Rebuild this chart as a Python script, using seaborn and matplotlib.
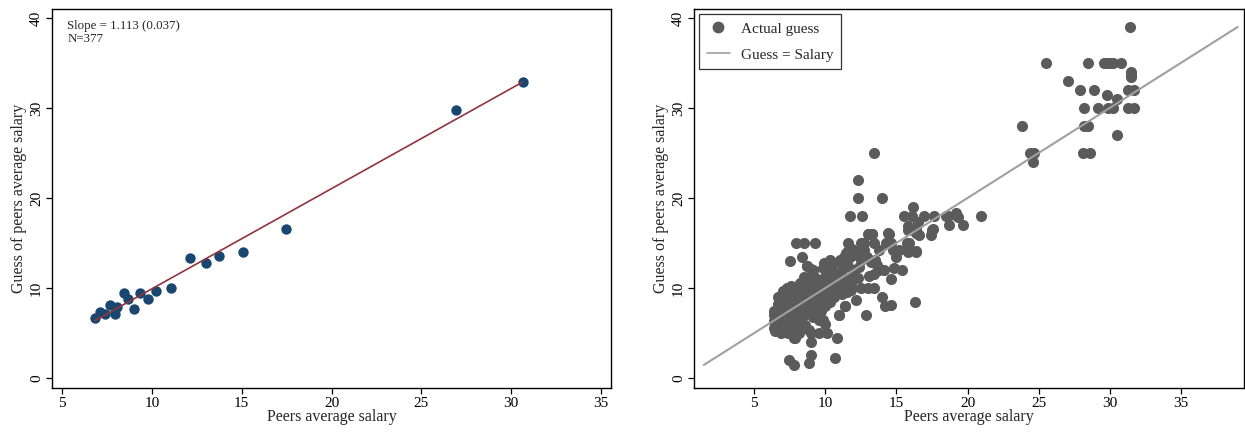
import numpy as np
import pandas as pd
import matplotlib
matplotlib.use("Agg")
import matplotlib.pyplot as plt
from matplotlib.lines import Line2D
import seaborn as sns

# ---------------- data: left panel (binned scatter) ----------------
bin_salary = [6.83, 7.14, 7.40, 7.69, 7.92, 8.07, 8.43, 8.69, 8.98, 9.34,
              9.79, 10.23, 11.05, 12.14, 13.01, 13.75, 15.08, 17.44, 26.95, 30.64]
bin_guess = [6.64, 7.37, 7.08, 8.15, 7.12, 7.93, 9.40, 8.81, 7.67, 9.40,
             8.74, 9.70, 9.99, 13.31, 12.79, 13.60, 14.01, 16.59, 29.79, 32.92]
fit_slope = 1.113
fit_intercept = -1.22
slope_text = "Slope = 1.113 (0.037)\nN=377"

# ---------------- data: right panel (individual guesses) ----------------
high_salary = [31.4, 25.5, 28.5, 29.6, 29.8, 30.0, 30.2, 30.8, 31.5, 31.5, 31.5,
               27.1, 27.9, 28.9, 29.8, 30.5, 31.3, 31.7, 28.2, 29.2, 29.9, 30.2,
               31.3, 31.7, 23.8, 28.2, 28.5, 30.5, 24.4, 24.7, 24.6, 28.1, 28.6]
high_guess = [39, 35, 35, 35, 35, 35, 35, 35, 34, 33.7, 33.4,
              33, 32, 32, 31.5, 31, 32, 32, 30, 30, 30, 30,
              30, 30, 28, 28, 28, 27, 25, 25, 24, 25, 25]

mid_salary = [13.45, 12.3, 12.3, 14.0, 11.7, 12.6, 16.15,
              15.5, 16.1, 16.95, 17.65, 18.5, 19.2, 19.3, 20.95,
              15.8, 16.55, 16.4, 16.6, 17.5, 17.4, 18.7, 19.7,
              13.05, 13.3, 14.45, 12.5, 13.45, 14.3, 14.6, 15.85, 11.6, 12.7,
              15.15, 15.8, 16.4, 12.75, 13.8, 14.75, 15.0,
              12.5, 12.2, 12.9, 13.2, 14.15, 14.85, 15.4, 14.65, 13.1, 13.45,
              12.98, 13.45, 12.5, 13.97, 16.3, 14.2, 14.6, 12.84, 11.4, 10.96, 12.15,
              11.0, 11.3, 11.6, 11.9, 11.45, 11.7, 12.15, 12.6,
              13.5, 13.65, 13.8, 11.2, 11.6, 12.0, 12.4, 11.9, 12.27, 11.5, 11.8,
              15.84, 16.35, 15.84, 17.6, 18.6, 19.16, 13.0, 13.26, 14.4, 15.73, 16.35]
mid_guess = [25, 22, 20, 20, 18, 18, 19,
             18, 18, 18, 18, 18, 18.1, 17.9, 18,
             16.9, 17.3, 16.6, 15.9, 16.5, 15.9, 17, 17,
             16, 16, 16, 15, 15, 15, 15, 15, 15, 15,
             14.2, 14, 14, 14.2, 14.2, 14.2, 13.5,
             13.1, 13.7, 13.4, 12.9, 12, 12.2, 12, 11, 11.3, 11.6,
             10, 10, 10, 9, 8.5, 8, 8.1, 7, 8, 7, 8.7,
             13.1, 13.5, 14.1, 14.3, 13.85, 13.5, 14.0, 13.7,
             13.1, 12.6, 12.0, 12, 12.4, 12.0, 12.3, 11.5, 11.07, 11, 10.5,
             16.5, 16.1, 14.07, 16.55, 18, 18.3, 16, 16, 16.1, 15, 14.07]

low_salary = [7.43, 7.78, 8.97, 8.85, 10.69, 9.0, 10.85, 9.56, 10.15, 8.6, 8.85,
              6.85, 7.9, 7.78, 6.46, 6.94, 7.36, 8.12, 8.99, 9.8, 10.0, 9.52, 10.97, 11.4,
              7.92, 8.48, 9.24, 7.5, 8.37, 8.7, 9.0, 9.9, 10.3, 9.8, 10.38, 10.5, 10.97,
              8.73, 9.13,
              6.4, 6.4, 6.4, 6.4,
              6.7, 6.7, 6.7, 6.7, 6.7, 6.7,
              7.0, 7.0, 7.0, 7.0, 7.0, 7.0, 7.0, 7.0,
              7.3, 7.3, 7.3, 7.3, 7.3, 7.3, 7.3, 7.3,
              7.6, 7.6, 7.6, 7.6, 7.6, 7.6, 7.6, 7.6, 7.6,
              7.9, 7.9, 7.9, 7.9, 7.9, 7.9, 7.9, 7.9,
              8.2, 8.2, 8.2, 8.2, 8.2, 8.2, 8.2, 8.2,
              8.5, 8.5, 8.5, 8.5, 8.5, 8.5, 8.5, 8.5,
              8.8, 8.8, 8.8, 8.8, 8.8, 8.8, 8.8,
              9.1, 9.1, 9.1, 9.1, 9.1, 9.1, 9.1, 9.1,
              9.4, 9.4, 9.4, 9.4, 9.4, 9.4,
              9.7, 9.7, 9.7, 9.7, 9.7, 9.7,
              10.0, 10.0, 10.0, 10.0, 10.0, 10.0,
              10.3, 10.3, 10.3, 10.3, 10.3,
              10.6, 10.6, 10.6, 10.6, 10.6,
              10.9, 10.9, 10.9, 10.9,
              11.2, 11.2, 11.2, 11.5, 11.5, 11.8, 11.8]
low_guess = [2.05, 1.45, 2.55, 1.65, 2.2, 4.0, 4.5, 5, 5, 5.9, 5.3,
             5, 4.4, 4.5, 5.2, 5.2, 5, 5, 5, 6.4, 6.0, 6.5, 7.0, 8.0,
             15, 15, 15, 13, 13.5, 12.5, 12.1, 12.8, 13.1, 12.2, 12.9, 12, 12.9,
             12.4, 12.0,
             5.6, 6.3, 7.0, 7.5,
             5.8, 6.4, 7.0, 7.6, 8.2, 9.0,
             5.5, 6.1, 6.7, 7.3, 7.9, 8.5, 9.1, 9.7,
             5.8, 6.4, 7.0, 7.6, 8.2, 8.8, 9.4, 10.0,
             5.5, 6.1, 6.7, 7.3, 7.9, 8.5, 9.1, 9.7, 10.2,
             5.8, 6.4, 7.0, 7.6, 8.2, 8.8, 9.4, 10.0,
             6.5, 7.1, 7.7, 8.3, 8.9, 9.5, 10.1, 10.6,
             7.0, 7.6, 8.2, 8.8, 9.4, 10.0, 10.6, 11.2,
             7.3, 8.0, 8.6, 9.2, 9.8, 10.4, 11.0,
             6.8, 7.5, 8.2, 8.8, 9.4, 10.0, 10.7, 11.5,
             7.8, 8.5, 9.1, 9.7, 10.3, 11.0,
             7.5, 8.2, 8.8, 9.4, 10.0, 10.6,
             8.0, 8.7, 9.3, 10.0, 10.6, 11.2,
             8.5, 9.2, 9.8, 10.0, 10.5,
             9.0, 9.6, 10.0, 10.8, 11.3,
             9.5, 10.0, 10.6, 11.1,
             9.3, 10.0, 10.4, 9.6, 10.0, 9.8, 10.2]

x_label = "Peers average salary"
y_label = "Guess of peers average salary"
x_ticks = [5, 10, 15, 20, 25, 30, 35]
y_ticks = [0, 10, 20, 30, 40]
legend_labels = ["Actual guess", "Guess = Salary"]

# ---------------- build tables ----------------
bins = pd.DataFrame({"salary": bin_salary, "guess": bin_guess})
indiv = pd.DataFrame({
    "salary": high_salary + mid_salary + low_salary,
    "guess": high_guess + mid_guess + low_guess,
})
fit_x = np.array([min(bin_salary), max(bin_salary)])
fit_df = pd.DataFrame({"x": fit_x, "y": fit_slope * fit_x + fit_intercept})
g_lo, g_hi = indiv["guess"].min(), indiv["guess"].max()
diag_df = pd.DataFrame({"x": [g_lo, g_hi], "y": [g_lo, g_hi]})

# ---------------- style ----------------
sns.set_theme(style="white")
plt.rcParams["font.family"] = ["Liberation Serif", "DejaVu Serif"]
plt.rcParams["axes.edgecolor"] = "black"
plt.rcParams["axes.linewidth"] = 1.0

fig = plt.figure(figsize=(12.45, 4.32), dpi=100, facecolor="white")
ax1 = fig.add_axes([52 / 1245, 1 - 388 / 432, 559 / 1245, 379 / 432])
ax2 = fig.add_axes([694 / 1245, 1 - 388 / 432, 550 / 1245, 379 / 432])

navy = "#1a476f"
maroon = "#90353b"
dgray = "#5b5b5b"
lgray = "#a0a0a0"

# left panel
sns.scatterplot(data=bins, x="salary", y="guess", ax=ax1, color=navy, s=56,
                edgecolor=navy, linewidth=0, zorder=2, legend=False)
sns.lineplot(data=fit_df, x="x", y="y", ax=ax1, color=maroon, linewidth=1.2,
             zorder=3, legend=False)
ax1.set_xlim(4.44, 35.56)
ax1.text(0.027, 0.972, slope_text, transform=ax1.transAxes, ha="left", va="top",
         fontsize=9.3, linespacing=1.1)

# right panel
sns.scatterplot(data=indiv, x="salary", y="guess", ax=ax2, color=dgray, s=64,
                edgecolor=dgray, linewidth=0, zorder=2, legend=False)
sns.lineplot(data=diag_df, x="x", y="y", ax=ax2, color=lgray, linewidth=1.5,
             zorder=3, legend=False)
ax2.set_xlim(0.76, 39.45)

handles = [Line2D([0], [0], marker="o", linestyle="none", color=dgray, markersize=7.5),
           Line2D([0], [0], color=lgray, linewidth=1.2)]
leg = ax2.legend(handles, legend_labels, loc="upper left", fontsize=11,
                 frameon=True, fancybox=False, edgecolor="black",
                 borderaxespad=0.35, handlelength=1.5, handletextpad=0.7,
                 borderpad=0.5, labelspacing=0.8)
leg.get_frame().set_linewidth(0.9)

for ax in (ax1, ax2):
    ax.set_ylim(-1.11, 41.0)
    ax.set_xticks(x_ticks)
    ax.set_yticks(y_ticks)
    ax.set_xlabel(x_label, fontsize=11.5, labelpad=-1)
    ax.set_ylabel(y_label, fontsize=11.5, labelpad=2)
    ax.tick_params(axis="both", direction="out", length=4.5, width=0.9,
                   colors="black", labelsize=11, pad=2, bottom=True, left=True)
    for lab in ax.get_yticklabels():
        lab.set_rotation(90)
        lab.set_va("center")
    for s in ax.spines.values():
        s.set_visible(True)
        s.set_color("black")
        s.set_linewidth(1.0)
    ax.set_facecolor("white")

fig.savefig("out.png", dpi=100, facecolor="white")
